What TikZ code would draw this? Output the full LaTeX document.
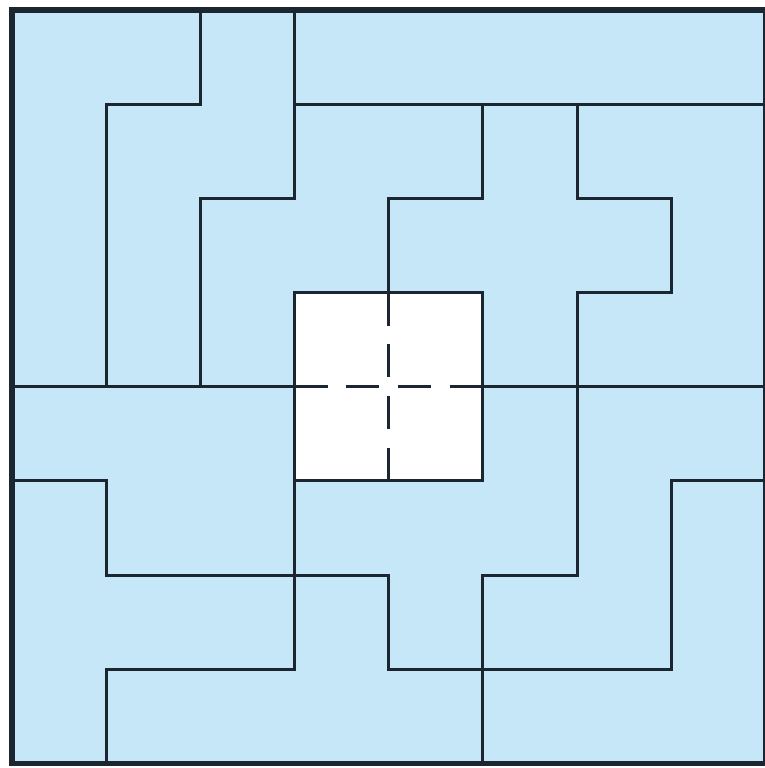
\documentclass[tikz,border=0pt]{standalone}
\usepackage{xcolor}
\usepackage{tikz}
\definecolor{tileblue}{HTML}{C6E7F8}
\definecolor{edgeink}{HTML}{1C2630}

\begin{document}
\begin{tikzpicture}[y=-1cm,
    cut/.style={draw=edgeink, line width=0.9pt, line join=miter},
    frame/.style={draw=edgeink, line width=1.7pt},
    hole/.style={draw=edgeink, line width=0.9pt, dash pattern=on 0.35cm off 0.2cm}]
  \useasboundingbox (-0.127,-0.106) rectangle (7.994,8.047);

  \fill[tileblue] (0,0) rectangle (8,8);
  \fill[white] (3,3) rectangle (5,5);

  % upper pieces
  \draw[cut] (2,0) -- (2,1) -- (1,1) -- (1,4);
  \draw[cut] (3,0) -- (3,2) -- (2,2) -- (2,4);
  \draw[cut] (3,1) -- (8,1);
  \draw[cut] (5,1) -- (5,2) -- (4,2) -- (4,3);
  \draw[cut] (6,1) -- (6,2) -- (7,2) -- (7,3) -- (6,3) -- (6,6) -- (5,6) -- (5,8);
  \draw[cut] (0,4) -- (3,4);
  \draw[cut] (5,4) -- (8,4);

  % lower pieces
  \draw[cut] (3,5) -- (3,7) -- (1,7) -- (1,8);
  \draw[cut] (0,5) -- (1,5) -- (1,6) -- (4,6) -- (4,7) -- (7,7) -- (7,5) -- (8,5);

  % empty centre
  \draw[cut] (3,3) rectangle (5,5);
  \draw[hole] (3,4) -- (5,4);
  \draw[hole] (4,3) -- (4,5);

  \draw[frame] (0,0) rectangle (8,8);
\end{tikzpicture}
\end{document}
